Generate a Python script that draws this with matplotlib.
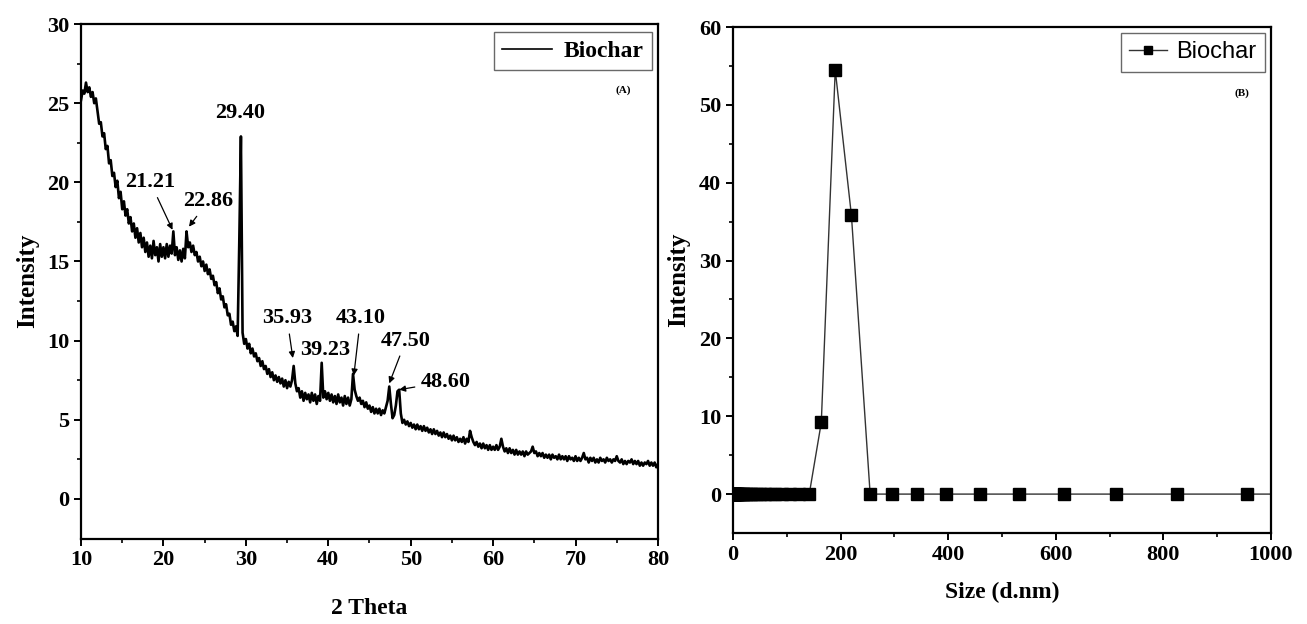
import numpy as np
import matplotlib
matplotlib.use("Agg")
import matplotlib.pyplot as plt

# --- (A) XRD pattern, 2theta scan in 0.2 deg steps from 10 to 80 ---
two_theta = np.round(np.arange(10.0, 80.001, 0.2), 1)
xrd_intensity = [
    25.2, 25.8, 25.6, 26.3, 25.7, 26.0, 25.4, 25.7, 25.0, 25.3,   # 10
    24.5, 23.7, 23.8, 22.9, 23.1, 22.1, 22.3, 21.2, 21.4, 20.4,   # 12
    20.6, 19.7, 20.1, 19.0, 19.4, 18.3, 18.8, 17.9, 18.3, 17.4,   # 14
    17.8, 16.9, 17.4, 16.5, 17.1, 16.2, 16.8, 15.9, 16.5, 15.6,   # 16
    16.2, 15.3, 16.0, 15.2, 16.3, 15.4, 15.9, 15.0, 16.1, 15.3,   # 18
    15.9, 15.2, 16.1, 15.3, 16.0, 15.5, 16.9, 15.4, 15.9, 15.1,   # 20
    15.7, 15.0, 15.8, 15.2, 16.9, 15.9, 16.2, 15.6, 16.0, 15.4,   # 22
    15.6, 15.0, 15.3, 14.7, 15.0, 14.4, 14.8, 14.2, 14.5, 13.9,   # 24
    14.1, 13.5, 13.7, 13.0, 13.3, 12.6, 12.8, 12.1, 12.3, 11.6,   # 26
    11.7, 11.0, 11.2, 10.6, 10.9, 10.3, 16.2, 22.9, 10.5, 9.8,    # 28
    10.1, 9.5, 9.8, 9.2, 9.5, 9.0, 9.2, 8.7, 8.9, 8.4,            # 30
    8.7, 8.2, 8.4, 7.9, 8.2, 7.7, 8.0, 7.5, 7.8, 7.4,             # 32
    7.7, 7.3, 7.6, 7.1, 7.5, 7.0, 7.4, 7.1, 7.5, 8.4,             # 34
    7.3, 6.8, 7.0, 6.4, 6.8, 6.2, 6.7, 6.3, 6.6, 6.1,             # 36
    6.7, 6.2, 6.6, 6.0, 6.5, 6.2, 8.6, 6.4, 6.8, 6.3,             # 38
    6.7, 6.2, 6.6, 6.1, 6.5, 6.0, 6.6, 6.1, 6.4, 5.9,             # 40
    6.5, 6.0, 6.4, 5.9, 6.3, 7.9, 6.9, 6.5, 6.2, 6.4,             # 42
    6.0, 6.2, 5.8, 6.1, 5.7, 5.9, 5.5, 5.8, 5.4, 5.7,             # 44
    5.4, 5.7, 5.3, 5.6, 5.4, 5.8, 6.2, 7.1, 6.0, 5.1,             # 46
    5.3, 5.9, 6.8, 6.9, 5.4, 4.8, 5.0, 4.7, 4.9, 4.6,             # 48
    4.8, 4.5, 4.7, 4.4, 4.7, 4.4, 4.6, 4.3, 4.6, 4.3,             # 50
    4.5, 4.2, 4.4, 4.1, 4.4, 4.1, 4.3, 4.0, 4.2, 3.9,             # 52
    4.2, 3.9, 4.1, 3.8, 4.0, 3.7, 4.0, 3.7, 3.9, 3.6,             # 54
    3.8, 3.6, 3.9, 3.5, 3.8, 3.6, 4.3, 3.9, 3.6, 3.4,             # 56
    3.6, 3.3, 3.5, 3.2, 3.5, 3.2, 3.4, 3.1, 3.4, 3.1,             # 58
    3.3, 3.1, 3.4, 3.1, 3.3, 3.8, 3.3, 3.0, 3.2, 2.9,             # 60
    3.2, 2.9, 3.1, 2.8, 3.1, 2.8, 3.0, 2.8, 3.0, 2.7,             # 62
    3.0, 2.8, 2.9, 3.0, 3.3, 2.9, 3.0, 2.7, 2.9, 2.7,             # 64
    2.9, 2.6, 2.8, 2.6, 2.8, 2.5, 2.8, 2.6, 2.7, 2.5,             # 66
    2.8, 2.5, 2.7, 2.5, 2.7, 2.4, 2.7, 2.5, 2.6, 2.4,             # 68
    2.7, 2.4, 2.6, 2.4, 2.6, 2.9, 2.5, 2.6, 2.3, 2.6,             # 70
    2.4, 2.6, 2.3, 2.5, 2.3, 2.6, 2.4, 2.5, 2.3, 2.6,             # 72
    2.4, 2.5, 2.3, 2.5, 2.4, 2.7, 2.4, 2.3, 2.5, 2.2,             # 74
    2.4, 2.2, 2.4, 2.3, 2.5, 2.2, 2.4, 2.2, 2.4, 2.1,             # 76
    2.3, 2.1, 2.3, 2.2, 2.4, 2.1, 2.3, 2.1, 2.3, 2.0,             # 78
    2.2,                                                          # 80
]

# peak labels: text, arrow tip (theta, I), text position (theta, I)
peak_labels = ["21.21", "22.86", "29.40", "35.93", "39.23", "43.10", "47.50", "48.60"]
peak_tips = [(21.1, 17.0), (23.1, 17.2), None, (35.7, 8.9), None, (43.1, 7.8), (47.4, 7.3), (48.6, 6.9)]
peak_text = [(18.4, 20.0), (25.4, 18.8), (29.3, 24.4), (35.0, 11.4), (39.6, 9.4),
             (43.9, 11.4), (49.4, 10.0), (54.2, 7.4)]

# --- (B) DLS size distribution ---
size_nm = [0.4, 0.4632, 0.5365, 0.6213, 0.7195, 0.8332, 0.9649, 1.117, 1.294, 1.499,
           1.736, 2.01, 2.328, 2.696, 3.122, 3.615, 4.187, 4.849, 5.615, 6.503,
           7.531, 8.721, 10.1, 11.7, 13.54, 15.69, 18.17, 21.04, 24.36, 28.21,
           32.67, 37.84, 43.82, 50.75, 58.77, 68.06, 78.82, 91.28, 105.7, 122.4,
           141.8, 164.2, 190.1, 220.2, 255.0, 295.3, 342.0, 396.1, 458.7, 531.2,
           615.1, 712.4, 825.0, 955.4, 1106.0]
dls_intensity = [0] * 41 + [9.2, 54.5, 35.8] + [0] * 11

serif = ["Liberation Serif", "DejaVu Serif"]
sans = ["Liberation Sans", "DejaVu Sans"]

fig = plt.figure(figsize=(13.07, 6.24), dpi=100)
axA = fig.add_axes([0.062, 0.137, 0.4414, 0.8245])
axB = fig.add_axes([0.5608, 0.1458, 0.4116, 0.8109])

axA.plot(two_theta, xrd_intensity, color="black", lw=1.9, label="Biochar")
for lab, tip, pos in zip(peak_labels, peak_tips, peak_text):
    if tip is None:
        axA.text(pos[0], pos[1], lab, ha="center", va="center",
                 fontsize=16, fontweight="bold", family=serif)
    else:
        axA.annotate(lab, xy=tip, xytext=pos, ha="center", va="center",
                     fontsize=16, fontweight="bold", family=serif,
                     arrowprops=dict(arrowstyle="-|>", color="black", lw=0.9,
                                     mutation_scale=9, shrinkA=2, shrinkB=0))
axA.set_xlim(10, 80)
axA.set_ylim(-2.5, 30)
axA.set_xticks(np.arange(10, 81, 10))
axA.set_xticks(np.arange(15, 80, 10), minor=True)
axA.set_yticks(np.arange(0, 31, 5))
axA.set_yticks(np.arange(2.5, 30, 5), minor=True)
axA.set_xlabel("2 Theta", fontsize=17, fontweight="bold", family=serif, labelpad=20)
axA.set_ylabel("Intensity", fontsize=18, fontweight="bold", family=serif, labelpad=6)
axA.text(0.939, 0.872, "(A)", transform=axA.transAxes, ha="center", va="center",
         fontsize=8, fontweight="bold", family=serif)
legA = axA.legend(loc="upper right", bbox_to_anchor=(0.9896, 0.9845), fancybox=False,
                  edgecolor="#444444", handlelength=2.1, handletextpad=0.5,
                  borderpad=0.35, borderaxespad=0,
                  prop=dict(family=serif, weight="bold", size=17))
legA.get_frame().set_linewidth(1.0)
legA.get_lines()[0].set_linewidth(1.2)

axB.plot(size_nm, dls_intensity, color="#333333", lw=1.0, marker="s", ms=8,
         mfc="black", mec="black", label="Biochar")
axB.set_xlim(0, 1000)
axB.set_ylim(-5, 60)
axB.set_xticks(np.arange(0, 1001, 200))
axB.set_xticks(np.arange(100, 1000, 200), minor=True)
axB.set_yticks(np.arange(0, 61, 10))
axB.set_yticks(np.arange(5, 60, 10), minor=True)
axB.set_xlabel("Size (d.nm)", fontsize=17, fontweight="bold", family=serif, labelpad=12)
axB.set_ylabel("Intensity", fontsize=18, fontweight="bold", family=serif, labelpad=6)
axB.text(0.946, 0.870, "(B)", transform=axB.transAxes, ha="center", va="center",
         fontsize=8, fontweight="bold", family=serif)
legB = axB.legend(loc="upper right", bbox_to_anchor=(0.9888, 0.988), fancybox=False,
                  edgecolor="#444444", handlelength=1.6, handletextpad=0.4,
                  borderpad=0.35, numpoints=1, borderaxespad=0,
                  prop=dict(family=sans, size=17))
legB.get_frame().set_linewidth(1.0)
legB.get_lines()[0].set_markersize(6)

for ax in (axA, axB):
    for s in ax.spines.values():
        s.set_linewidth(1.6)
    ax.tick_params(which="major", direction="out", length=5, width=1.4,
                   labelsize=16, top=False, right=False)
    ax.tick_params(which="minor", direction="out", length=3, width=1.2,
                   top=False, right=False)
    for t in ax.get_xticklabels() + ax.get_yticklabels():
        t.set_family(serif)
        t.set_fontweight("bold")

fig.savefig("out.png", dpi=100)
